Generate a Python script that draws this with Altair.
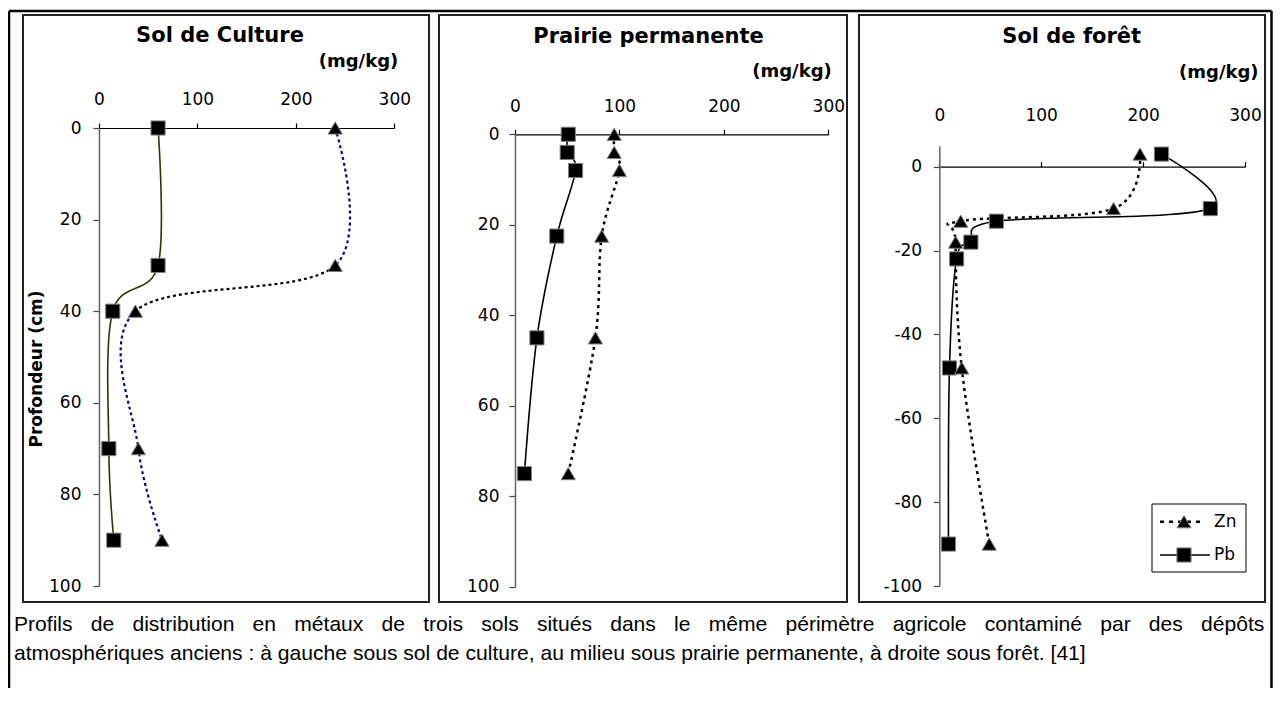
import altair as alt
import pandas as pd

# ---------------- data ----------------
titles = ["Sol de Culture", "Prairie permanente", "Sol de forêt"]
unit_label = "(mg/kg)"
y_title = "Profondeur (cm)"
series_names = ["Zn", "Pb"]
x_ticks = [0, 100, 200, 300]
y_ticks_down = [0, 20, 40, 60, 80, 100]
y_ticks_neg = [0, -20, -40, -60, -80, -100]

culture_depth = [0, 30, 40, 70, 90]
culture_pb = [60, 60, 14, 10, 15]
culture_zn = [240, 240, 37, 40, 64]

prairie_depth = [0, 4, 8, 22.5, 45, 75]
prairie_pb = [51, 50, 58, 40, 21, 9]
prairie_zn = [95, 95, 100, 83, 77, 51]

foret_depth_pb = [3, -10, -13, -18, -22, -48, -90]
foret_pb = [218, 266, 56, 31, 17, 10, 9]
foret_depth_zn = [3, -10, -13, -18, -48, -90]
foret_zn = [197, 171, 21, 16, 22, 49]

caption_lines = [
    "Profils de distribution en métaux de trois sols situés dans le même périmètre agricole contaminé par des dépôts",
    "atmosphériques anciens : à gauche sous sol de culture, au milieu sous prairie permanente, à droite sous forêt. [41]",
]

# ---------------- helpers ----------------
AX_FONT = "DejaVu Sans"
CAP_FONT = "Liberation Sans, Arial, sans-serif"
one = pd.DataFrame({"k": [0]})


def table(vals, depths):
    return pd.DataFrame({"i": list(range(len(vals))), "val": vals, "depth": depths})


def txt(s, x, y, size, weight="normal", align="center", angle=0,
        baseline="middle", font=AX_FONT):
    return alt.Chart(one).mark_text(
        text=s, font=font, fontSize=size, fontWeight=weight, align=align,
        baseline=baseline, angle=angle, color="black"
    ).encode(x=alt.value(x), y=alt.value(y))


def box(x1, x2, y1, y2, color="#222", width=2.0):
    return alt.Chart(one).mark_rect(
        fillOpacity=0, stroke=color, strokeWidth=width
    ).encode(x=alt.value(x1), x2=alt.value(x2), y=alt.value(y1), y2=alt.value(y2))


def hrule(x1, x2, y, color="black", width=2.5, dash=None):
    kw = dict(color=color, strokeWidth=width)
    if dash:
        kw["strokeDash"] = dash
    return alt.Chart(one).mark_rule(**kw).encode(
        x=alt.value(x1), x2=alt.value(x2), y=alt.value(y))


def vrule(x, y1, y2, color="black", width=2.5):
    return alt.Chart(one).mark_rule(color=color, strokeWidth=width).encode(
        x=alt.value(x), y=alt.value(y1), y2=alt.value(y2))


def sym(shape, x, y):
    return alt.Chart(one).mark_point(
        shape=shape, filled=True, size=200, fill="black", stroke="#808080",
        strokeWidth=1, opacity=1
    ).encode(x=alt.value(x), y=alt.value(y))


LABEL_EXPR = "'' + datum.value"


def panel(pb_df, zn_df, xr, ydom, yr, yticks, xpad, ypad,
          pb_color, zn_color, zn_dash, zn_width):
    y_zero = yr[0] + (0 - ydom[0]) / (ydom[1] - ydom[0]) * (yr[1] - yr[0])
    x_zero = xr[0]
    xsc = alt.Scale(domain=[0, 300], range=xr, nice=False, zero=False)
    ysc = alt.Scale(domain=ydom, range=yr, nice=False, zero=False)
    xax = alt.Axis(orient="top", offset=-y_zero, values=x_ticks, grid=False,
                   domainColor="black", domainWidth=1.2, tickColor="black",
                   tickWidth=1.2, tickSize=5, labelFont=AX_FONT, labelFontSize=17,
                   labelColor="black", labelPadding=xpad, labelFlush=False,
                   labelOverlap=False, labelExpr=LABEL_EXPR)
    yax = alt.Axis(orient="left", offset=-x_zero, values=yticks, grid=False,
                   domainColor="#666", domainWidth=1.5, tickColor="#444",
                   tickWidth=1.2, tickSize=6, labelFont=AX_FONT, labelFontSize=17,
                   labelColor="black", labelPadding=ypad, labelFlush=False,
                   labelOverlap=False, labelExpr=LABEL_EXPR)
    X = alt.X("val:Q", scale=xsc, axis=xax, title=None)
    Y = alt.Y("depth:Q", scale=ysc, axis=yax, title=None)
    pb_line = alt.Chart(pb_df).mark_line(
        interpolate="cardinal", tension=0, color=pb_color, strokeWidth=1.6
    ).encode(x=X, y=Y, order=alt.Order("i:Q"))
    zn_line = alt.Chart(zn_df).mark_line(
        interpolate="cardinal", tension=0, color=zn_color, strokeWidth=zn_width,
        strokeDash=zn_dash
    ).encode(x=X, y=Y, order=alt.Order("i:Q"))
    pb_pts = alt.Chart(pb_df).mark_point(
        shape="square", filled=True, size=200, fill="black", stroke="#808080",
        strokeWidth=1, opacity=1
    ).encode(x=X, y=Y)
    zn_pts = alt.Chart(zn_df).mark_point(
        shape="triangle-up", filled=True, size=200, fill="black", stroke="#808080",
        strokeWidth=1, opacity=1
    ).encode(x=X, y=Y)
    return alt.layer(pb_line, zn_line, pb_pts, zn_pts)


# Zn line of the first panel: navy, except the 30 -> 40 cm stretch drawn in black
span = culture_depth[-1] - culture_depth[0]
f1 = (culture_depth[1] - culture_depth[0]) / span
f2 = (culture_depth[2] - culture_depth[0]) / span
zn1_stroke = alt.LinearGradient(
    gradient="linear", x1=0, x2=0, y1=0, y2=1,
    stops=[
        alt.GradientStop(color="#000080", offset=0),
        alt.GradientStop(color="#000080", offset=f1),
        alt.GradientStop(color="#000000", offset=f1),
        alt.GradientStop(color="#000000", offset=f2),
        alt.GradientStop(color="#000080", offset=f2),
        alt.GradientStop(color="#000080", offset=1),
    ],
)

p1 = panel(table(culture_pb, culture_depth), table(culture_zn, culture_depth),
           [91, 386.3], [0, 100], [120, 578], y_ticks_down, 15, 12,
           "#333300", zn1_stroke, [3, 3], 2.2)
p2 = panel(table(prairie_pb, prairie_depth), table(prairie_zn, prairie_depth),
           [507, 820.3], [0, 100], [126.3, 578.7], y_ticks_down, 14, 10,
           "black", "black", [3, 4], 2.5)
p3 = panel(table(foret_pb, foret_depth_pb), table(foret_zn, foret_depth_zn),
           [931.3, 1237], [-100, 5], [578, 137.7], y_ticks_neg, 37, 11.6,
           "black", "black", [3, 4], 2.5)

# line 1 of the caption is justified in the reference: widen its word gaps
line1_justified = caption_lines[0].replace(" ", " \u2002\u200a")

decor = [
    # outer border (open at the bottom)
    hrule(1, 1263.5, 3),
    vrule(1, 3, 690),
    vrule(1263.5, 3, 690),
    # panel frames
    box(15, 421, 7, 594),
    box(431, 839, 7, 594),
    box(851, 1257, 7, 594),
    # panel titles and units
    txt(titles[0], 212, 28, 21, "bold"),
    txt(titles[1], 640.5, 28.7, 21, "bold"),
    txt(titles[2], 1063.7, 28.7, 21, "bold"),
    txt(unit_label, 350.5, 54, 18, "bold"),
    txt(unit_label, 784, 63.7, 18, "bold"),
    txt(unit_label, 1210.8, 65.3, 18, "bold"),
    # y axis title
    txt(y_title, 29, 361, 17, "bold", angle=270),
    # caption
    txt(line1_justified, 6, 623, 21.1, align="left",
        baseline="alphabetic", font=CAP_FONT),
    txt(caption_lines[1], 6, 652, 21.1, align="left", baseline="alphabetic",
        font=CAP_FONT),
]

legend = [
    box(1144, 1238, 496, 564, color="black", width=1),
    hrule(1152, 1195, 513.7, color="black", width=2.5, dash=[4, 5]),
    sym("triangle-up", 1176, 513.7),
    txt(series_names[0], 1206, 513.7, 17, align="left"),
    hrule(1152, 1202, 547, color="black", width=1.6),
    sym("square", 1176, 547),
    txt(series_names[1], 1206, 547, 17, align="left"),
]

chart = alt.layer(*decor, p1, p2, p3, *legend).resolve_scale(
    x="independent", y="independent"
).properties(
    width=1265, height=680, padding=0,
    autosize=alt.AutoSizeParams(type="none"),
).configure_view(strokeWidth=0)

chart.save("out.html", embed_options={"renderer": "svg", "actions": False})
